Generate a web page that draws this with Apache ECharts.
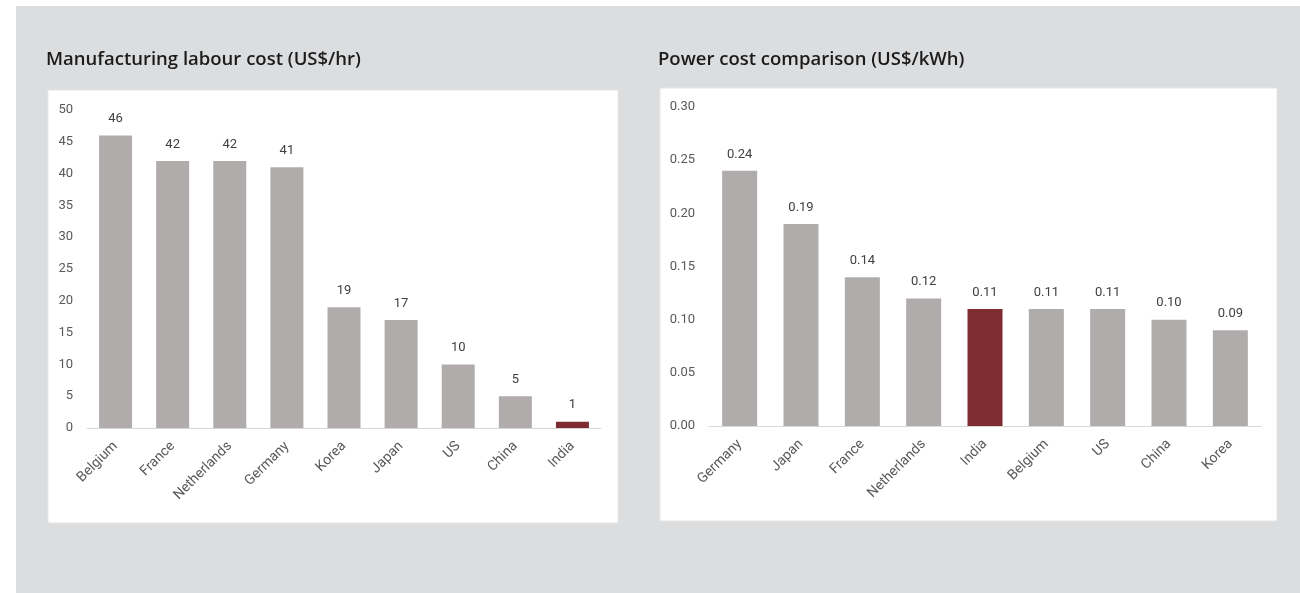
<!DOCTYPE html>
<html>
<head>
<meta charset="utf-8">
<script src="https://cdn.jsdelivr.net/npm/echarts@6/dist/echarts.min.js"></script>
<style>
html,body{margin:0;padding:0;background:#fff;}
#c{width:1300px;height:593px;}
</style>
</head>
<body>
<div id="c"></div>
<script>
const labourTitle = 'Manufacturing labour cost (US$/hr)';
const labourCategories = ['Belgium','France','Netherlands','Germany','Korea','Japan','US','China','India'];
const labourValues = [46, 42, 42, 41, 19, 17, 10, 5, 1];

const powerTitle = 'Power cost comparison (US$/kWh)';
const powerCategories = ['Germany','Japan','France','Netherlands','India','Belgium','US','China','Korea'];
const powerValues = [0.24, 0.19, 0.14, 0.12, 0.11, 0.11, 0.11, 0.10, 0.09];

const highlight = 'India';
const GREY = '#b0acab';
const RED = '#7e2b31';
const LABEL_FONT = 'Roboto, "Noto Sans", sans-serif';
const TITLE_FONT = '"Open Sans", Lato, sans-serif';

function barData(cats, vals){
  return vals.map((v,i)=>({value:v, itemStyle:{color: cats[i]===highlight ? RED : GREY}}));
}

const chart = echarts.init(document.getElementById('c'), null, {renderer:'canvas'});
chart.setOption({
  animation:false,
  backgroundColor:'#ffffff',
  graphic:[
    {type:'rect', z:-100, shape:{x:16,y:6,width:1284,height:587}, style:{fill:'#dcdddf'}},
    {type:'rect', z:-99, shape:{x:48,y:90,width:570,height:433}, style:{fill:'#ffffff', stroke:'#e6e6e6', lineWidth:1}},
    {type:'rect', z:-99, shape:{x:660,y:88,width:617,height:433}, style:{fill:'#ffffff', stroke:'#e6e6e6', lineWidth:1}}
  ],
  title:[
    {text:labourTitle, left:41, top:45, textStyle:{fontFamily:TITLE_FONT, fontSize:18.5, fontWeight:600, color:'#1b1b1b'}},
    {text:powerTitle, left:653, top:45, textStyle:{fontFamily:TITLE_FONT, fontSize:18.5, fontWeight:600, color:'#1b1b1b'}}
  ],
  grid:[
    {left:87, right:699, top:110, bottom:165},
    {left:709, right:39, top:107, bottom:167}
  ],
  xAxis:[
    {type:'category', gridIndex:0, data:labourCategories,
     axisLine:{lineStyle:{color:'#d9d9d9', width:1}}, axisTick:{show:false},
     axisLabel:{rotate:45, interval:0, margin:16, color:'#595959', fontFamily:LABEL_FONT, fontSize:14}},
    {type:'category', gridIndex:1, data:powerCategories,
     axisLine:{lineStyle:{color:'#d9d9d9', width:1}}, axisTick:{show:false},
     axisLabel:{rotate:45, interval:0, margin:16, color:'#595959', fontFamily:LABEL_FONT, fontSize:14}}
  ],
  yAxis:[
    {type:'value', gridIndex:0, min:0, max:50, interval:5,
     axisLine:{show:false}, axisTick:{show:false}, splitLine:{show:false},
     axisLabel:{margin:14, color:'#595959', fontFamily:LABEL_FONT, fontSize:13}},
    {type:'value', gridIndex:1, min:0, max:0.3, interval:0.05,
     axisLine:{show:false}, axisTick:{show:false}, splitLine:{show:false},
     axisLabel:{margin:14, color:'#595959', fontFamily:LABEL_FONT, fontSize:13, formatter:v=>v.toFixed(2)}}
  ],
  series:[
    {type:'bar', xAxisIndex:0, yAxisIndex:0, data:barData(labourCategories, labourValues), barWidth:33,
     label:{show:true, position:'top', distance:10, color:'#404040', fontFamily:LABEL_FONT, fontSize:13}},
    {type:'bar', xAxisIndex:1, yAxisIndex:1, data:barData(powerCategories, powerValues), barWidth:35,
     label:{show:true, position:'top', distance:10, color:'#404040', fontFamily:LABEL_FONT, fontSize:13, formatter:p=>p.value.toFixed(2)}}
  ]
});
</script>
</body>
</html>
